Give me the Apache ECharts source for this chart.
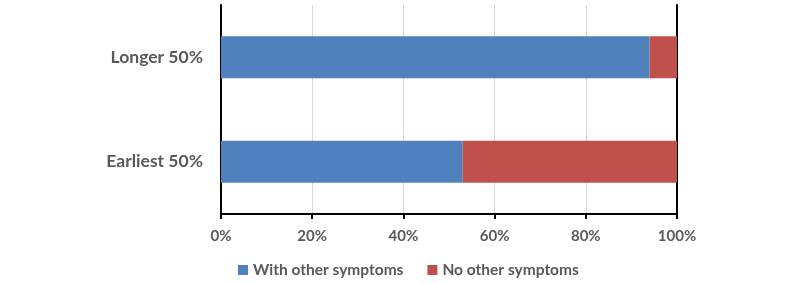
<!DOCTYPE html>
<html>
<head>
<meta charset="utf-8">
<script src="https://cdn.jsdelivr.net/npm/echarts@6/dist/echarts.min.js"></script>
<style>
  html, body { margin: 0; padding: 0; background: #fff; }
  #main { width: 800px; height: 283px; }
</style>
</head>
<body>
<div id="main"></div>
<script>
// data (percent of each group)
var categories = ['Earliest 50%', 'Longer 50%'];
var withOther = [53, 94];
var noOther = [47, 6];
var tickLabels = ['0%', '20%', '40%', '60%', '80%', '100%'];

var myChart = echarts.init(document.getElementById('main'));
var textColor = '#595959';
var font = 'Lato, "Open Sans", sans-serif';

var option = {
    animation: false,
    textStyle: { fontFamily: font },
    color: ['#4F81BD', '#C0504D'],
    grid: {
        left: 221,
        right: 123,
        top: 5,
        bottom: 69
    },
    legend: {
        bottom: 0,
        left: 233,
        itemWidth: 10,
        itemHeight: 10,
        itemGap: 24,
        icon: 'rect',
        textStyle: { color: textColor, fontSize: 15.5, fontWeight: 'bold', fontFamily: font },
        data: ['With other symptoms', 'No other symptoms']
    },
    xAxis: {
        type: 'value',
        min: 0,
        max: 100,
        interval: 20,
        axisLine: { show: true, lineStyle: { color: '#000', width: 2 } },
        axisTick: { show: true, length: 5, lineStyle: { color: '#000', width: 2 } },
        splitLine: { show: true, lineStyle: { color: '#d9d9d9', width: 1 } },
        axisLabel: {
            color: textColor,
            fontSize: 15,
            fontWeight: 'bold',
            margin: 15,
            formatter: function (v) { return tickLabels[v / 20]; }
        }
    },
    yAxis: [
        {
            type: 'category',
            data: categories,
            axisLine: { show: true, lineStyle: { color: '#000', width: 2 } },
            axisTick: { show: false },
            axisLabel: { color: textColor, fontSize: 17.5, fontWeight: 'bold', margin: 18 }
        },
        {
            type: 'category',
            position: 'right',
            data: categories,
            axisLine: { show: true, lineStyle: { color: '#000', width: 2 } },
            axisTick: { show: false },
            axisLabel: { show: false }
        }
    ],
    series: [
        {
            name: 'With other symptoms',
            type: 'bar',
            stack: 'total',
            barWidth: '40%',
            data: withOther
        },
        {
            name: 'No other symptoms',
            type: 'bar',
            stack: 'total',
            barWidth: '40%',
            data: noOther
        }
    ]
};

myChart.setOption(option);
</script>
</body>
</html>
